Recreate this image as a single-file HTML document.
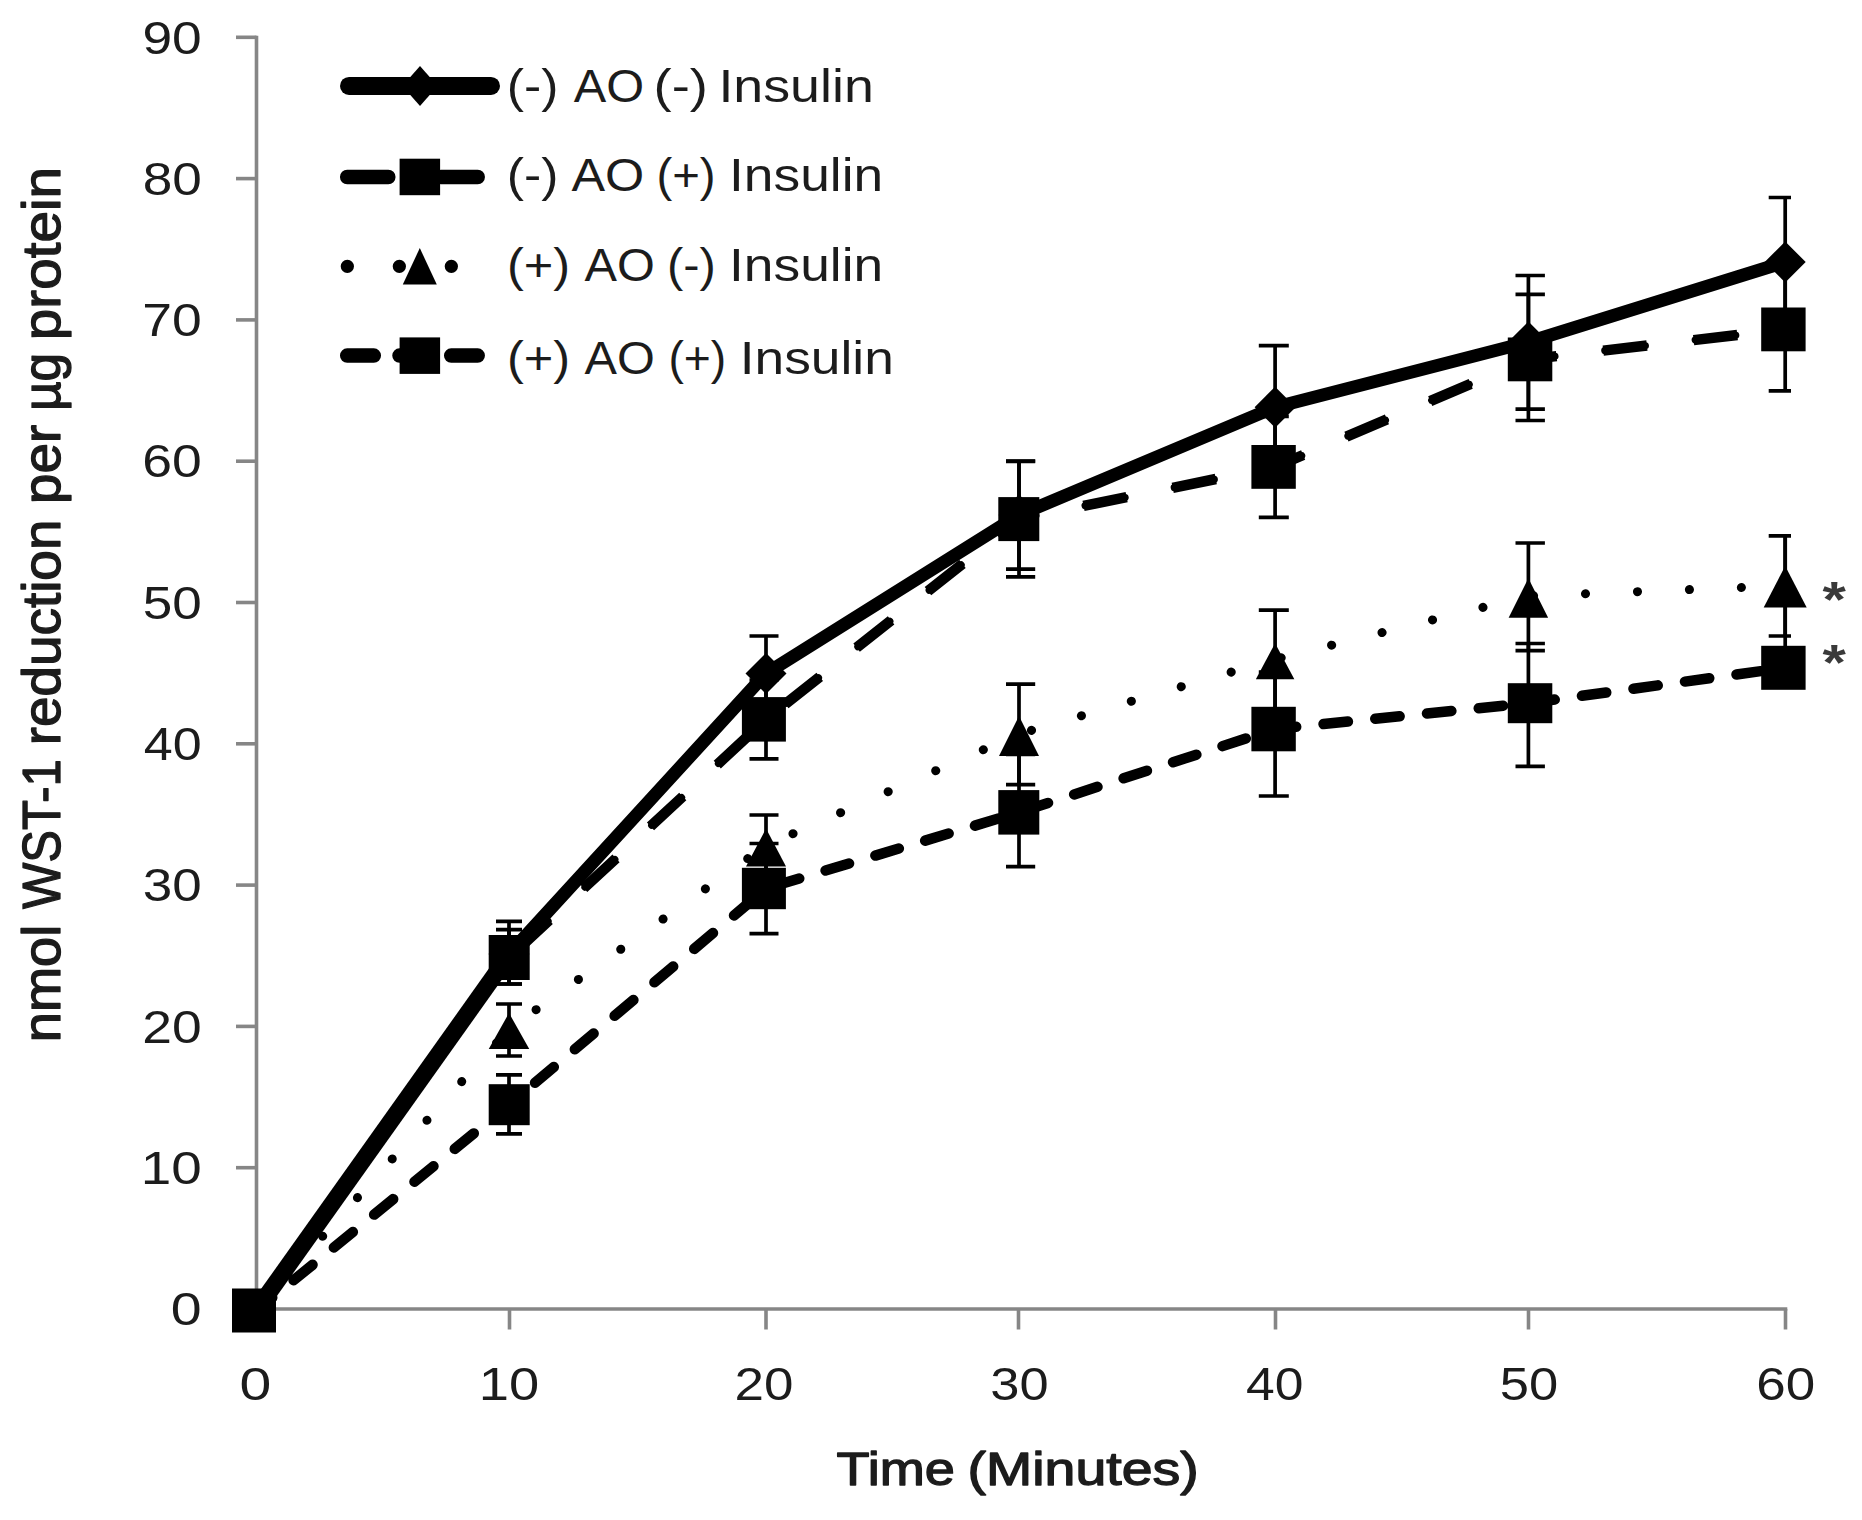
<!DOCTYPE html>
<html lang="en"><head><meta charset="utf-8"><title>WST-1 reduction chart</title>
<style>html,body{margin:0;padding:0;background:#fff}svg{display:block}text{font-family:"Liberation Sans",sans-serif;fill:#1c1c1c}.sb{stroke:#1c1c1c;stroke-width:1.3px;stroke-linejoin:round}</style></head><body>
<svg width="1862" height="1520" viewBox="0 0 1862 1520">
<rect width="1862" height="1520" fill="#fff"/>
<g stroke="#868686" stroke-width="3.6" fill="none">
<path d="M256.5 35.7V1310.8"/>
<path d="M254.7 1309H1787.3"/>
<path d="M236 1309.0H256.5"/>
<path d="M236 1167.7H256.5"/>
<path d="M236 1026.4H256.5"/>
<path d="M236 885.1H256.5"/>
<path d="M236 743.8H256.5"/>
<path d="M236 602.5H256.5"/>
<path d="M236 461.2H256.5"/>
<path d="M236 319.9H256.5"/>
<path d="M236 178.6H256.5"/>
<path d="M236 37.3H256.5"/>
<path d="M509.5 1309V1329.5"/>
<path d="M766 1309V1329.5"/>
<path d="M1018.5 1309V1329.5"/>
<path d="M1275.5 1309V1329.5"/>
<path d="M1528.5 1309V1329.5"/>
<path d="M1785.5 1309V1329.5"/>
</g>
<text font-size="46" x="170.8" y="1325.2" textLength="30.9" lengthAdjust="spacingAndGlyphs">0</text>
<text font-size="46" x="140.8" y="1183.9" textLength="61.0" lengthAdjust="spacingAndGlyphs">10</text>
<text font-size="46" x="142.3" y="1042.6" textLength="59.4" lengthAdjust="spacingAndGlyphs">20</text>
<text font-size="46" x="142.8" y="901.3" textLength="58.9" lengthAdjust="spacingAndGlyphs">30</text>
<text font-size="46" x="143.8" y="760.0" textLength="57.9" lengthAdjust="spacingAndGlyphs">40</text>
<text font-size="46" x="142.7" y="618.7" textLength="59.0" lengthAdjust="spacingAndGlyphs">50</text>
<text font-size="46" x="142.2" y="477.4" textLength="59.5" lengthAdjust="spacingAndGlyphs">60</text>
<text font-size="46" x="142.2" y="336.1" textLength="59.5" lengthAdjust="spacingAndGlyphs">70</text>
<text font-size="46" x="142.7" y="194.8" textLength="59.1" lengthAdjust="spacingAndGlyphs">80</text>
<text font-size="46" x="142.4" y="53.5" textLength="59.3" lengthAdjust="spacingAndGlyphs">90</text>
<text font-size="46" x="239.5" y="1399.7" textLength="31.8" lengthAdjust="spacingAndGlyphs">0</text>
<text font-size="46" x="478.7" y="1399.7" textLength="60.4" lengthAdjust="spacingAndGlyphs">10</text>
<text font-size="46" x="734.6" y="1399.7" textLength="58.9" lengthAdjust="spacingAndGlyphs">20</text>
<text font-size="46" x="990.3" y="1399.7" textLength="58.3" lengthAdjust="spacingAndGlyphs">30</text>
<text font-size="46" x="1246.1" y="1399.7" textLength="57.4" lengthAdjust="spacingAndGlyphs">40</text>
<text font-size="46" x="1499.8" y="1399.7" textLength="58.4" lengthAdjust="spacingAndGlyphs">50</text>
<text font-size="46" x="1756.2" y="1399.7" textLength="58.9" lengthAdjust="spacingAndGlyphs">60</text>
<text font-size="45.5" y="102.0"><tspan x="506.8" textLength="51.7" lengthAdjust="spacingAndGlyphs">(-)</tspan> <tspan x="573.8" textLength="70.4" lengthAdjust="spacingAndGlyphs">AO</tspan> <tspan x="653.6" textLength="54.4" lengthAdjust="spacingAndGlyphs">(-)</tspan> <tspan x="718.4" textLength="155.4" lengthAdjust="spacingAndGlyphs">Insulin</tspan></text>
<text font-size="45.5" y="191.2"><tspan x="506.8" textLength="51.7" lengthAdjust="spacingAndGlyphs">(-)</tspan> <tspan x="571.5" textLength="72.8" lengthAdjust="spacingAndGlyphs">AO</tspan> <tspan x="656.4" textLength="59.2" lengthAdjust="spacingAndGlyphs">(+)</tspan> <tspan x="729.0" textLength="154.2" lengthAdjust="spacingAndGlyphs">Insulin</tspan></text>
<text font-size="45.5" y="280.5"><tspan x="506.9" textLength="63.2" lengthAdjust="spacingAndGlyphs">(+)</tspan> <tspan x="584.5" textLength="70.3" lengthAdjust="spacingAndGlyphs">AO</tspan> <tspan x="666.9" textLength="48.9" lengthAdjust="spacingAndGlyphs">(-)</tspan> <tspan x="729.0" textLength="154.2" lengthAdjust="spacingAndGlyphs">Insulin</tspan></text>
<text font-size="45.5" y="373.6"><tspan x="506.9" textLength="63.2" lengthAdjust="spacingAndGlyphs">(+)</tspan> <tspan x="584.5" textLength="70.3" lengthAdjust="spacingAndGlyphs">AO</tspan> <tspan x="668.4" textLength="57.9" lengthAdjust="spacingAndGlyphs">(+)</tspan> <tspan x="739.7" textLength="154.2" lengthAdjust="spacingAndGlyphs">Insulin</tspan></text>
<text class="sb" font-size="46" y="1485.0"><tspan x="836.6" textLength="118.3" lengthAdjust="spacingAndGlyphs">Time</tspan> <tspan x="967.6" textLength="231.1" lengthAdjust="spacingAndGlyphs">(Minutes)</tspan></text>
<text class="sb" font-size="53" transform="translate(60.3 1039.2) rotate(-90)"><tspan x="-3.0" textLength="117.4" lengthAdjust="spacingAndGlyphs">nmol</tspan> <tspan x="130.2" textLength="149.9" lengthAdjust="spacingAndGlyphs">WST-1</tspan> <tspan x="293.9" textLength="225.7" lengthAdjust="spacingAndGlyphs">reduction</tspan> <tspan x="535.3" textLength="79.0" lengthAdjust="spacingAndGlyphs">per</tspan> <tspan x="628.1" textLength="58.2" lengthAdjust="spacingAndGlyphs">µg</tspan> <tspan x="699.0" textLength="173.2" lengthAdjust="spacingAndGlyphs">protein</tspan></text>
<text font-size="50" font-weight="bold" style="fill:#3a3a3a" text-anchor="middle" transform="translate(1834.3 617) scale(1.2 1)">*</text>
<text font-size="50" font-weight="bold" style="fill:#3a3a3a" text-anchor="middle" transform="translate(1834.3 680.2) scale(1.2 1)">*</text>
<g fill="none" stroke="#000" stroke-linecap="round" stroke-linejoin="round">
<polyline stroke-width="13" points="256.5,1310.0 509.0,954.0 766.0,673.5 1019.0,515.0 1275.1,407.2 1528.4,342.0 1785.2,262.0"/>
<path stroke-width="17" stroke-linecap="butt" d="M256.5 1310L509 955"/>
<polyline stroke-width="10.5" stroke-linecap="butt" stroke-dasharray="44 47" stroke-dashoffset="10.5" points="256.5,1310.0 509.0,957.5 766.0,719.4 1019.0,519.1 1275.1,466.9 1528.4,359.4 1785.2,329.4"/>
<polyline stroke-width="7" stroke-dasharray="41 50" stroke-dashoffset="9" points="256.5,1310.0 509.0,957.5 766.0,719.4 1019.0,519.1 1275.1,466.9 1528.4,359.4 1785.2,329.4"/>
<polyline stroke-width="9" stroke-dasharray="0.1 51.9" stroke-dashoffset="5" points="256.5,1310.0 509.0,1029.0 766.0,845.6 1019.0,734.0 1275.1,659.3 1528.4,596.0 1785.2,585.8"/>
<polyline stroke-width="10.5" stroke-dasharray="24.5 27.5" stroke-dashoffset="4.2" points="256.5,1310.5 509.0,1104.7 766.0,888.5 1019.0,812.4 1275.1,729.0 1528.4,703.2 1785.2,667.8"/>
<path stroke-width="18" d="M349 85.9H491"/>
<path stroke-width="14.5" d="M347.2 177H388.3M441 177H477.7"/>
<path stroke-width="13.2" stroke-dasharray="0.1 51.9" d="M347.3 266.3H452"/>
<path stroke-width="14.5" d="M347.2 355.6H373.8M399.5 355.6H426M451.2 355.6H477.7"/>
</g>
<g stroke="#000" stroke-width="3.7" fill="none" clip-path="url(#cp)">
<defs><clipPath id="cp"><rect x="0" y="0" width="1791" height="1520"/></clipPath></defs>
<path d="M509 921.4V984M496.0 921.4H522.0M496.0 984H522.0"/>
<path d="M766 636V711M749.5 636H778.5M749.5 711H778.5"/>
<path d="M1019 461V569.2M1006.0 461H1035.2M1006.0 569.2H1035.2"/>
<path d="M1275.1 345.7V468.7M1258.8 345.7H1288.8M1258.8 468.7H1288.8"/>
<path d="M1528.4 275.5V409.2M1515.5 275.5H1544.9M1515.5 409.2H1544.9"/>
<path d="M1785.2 197.5V326.5M1768.7 197.5H1797.1M1768.7 326.5H1797.1"/>
<path d="M509 929.7V984M496.0 929.7H522.0M496.0 984H522.0"/>
<path d="M766 680V758.8M749.5 680H778.5M749.5 758.8H778.5"/>
<path d="M1019 461.3V576.8M1006.0 461.3H1035.2M1006.0 576.8H1035.2"/>
<path d="M1275.1 416.4V517.4M1258.8 416.4H1288.8M1258.8 517.4H1288.8"/>
<path d="M1528.4 294.3V420.5M1515.5 294.3H1544.9M1515.5 420.5H1544.9"/>
<path d="M1785.2 268.4V390.8M1768.7 268.4H1797.1M1768.7 390.8H1797.1"/>
<path d="M509 1004V1056M496.0 1004H522.0M496.0 1056H522.0"/>
<path d="M766 815V880M749.5 815H778.5M749.5 880H778.5"/>
<path d="M1019 684.2V784.7M1006.0 684.2H1035.2M1006.0 784.7H1035.2"/>
<path d="M1275.1 610.1V712M1258.8 610.1H1288.8M1258.8 712H1288.8"/>
<path d="M1528.4 543V650.7M1515.5 543H1544.9M1515.5 650.7H1544.9"/>
<path d="M1785.2 535.8V636M1768.7 535.8H1797.1M1768.7 636H1797.1"/>
<path d="M509 1074.8V1133.8M496.0 1074.8H522.0M496.0 1133.8H522.0"/>
<path d="M766 843.5V933.6M749.5 843.5H778.5M749.5 933.6H778.5"/>
<path d="M1019 754.5V866.7M1006.0 754.5H1035.2M1006.0 866.7H1035.2"/>
<path d="M1275.1 672V796M1258.8 672H1288.8M1258.8 796H1288.8"/>
<path d="M1528.4 643.5V766.3M1515.5 643.5H1544.9M1515.5 766.3H1544.9"/>
<path d="M1785.2 536V660"/>
</g>
<g fill="#000">
<path d="M509 933.5L529.5 954L509 974.5L488.5 954Z"/>
<rect x="488.7" y="935.0" width="41" height="45"/>
<path d="M509 1013.0L529.25 1049.0H488.75Z"/>
<rect x="488.7" y="1084.2" width="41" height="41"/>
<path d="M766 653.0L786.5 673.5L766 694.0L745.5 673.5Z"/>
<rect x="741.9" y="697.1" width="44" height="44.5"/>
<path d="M766 828.6L786.0 866.6H746.0Z"/>
<rect x="741.9" y="867.8" width="44" height="41.4"/>
<path d="M1019 494.5L1039.5 515L1019 535.5L998.5 515Z"/>
<rect x="998.3" y="497.1" width="41" height="44"/>
<path d="M1019 716.0L1039.0 756.0H999.0Z"/>
<rect x="998.3" y="790.1" width="41" height="44.5"/>
<path d="M1275.1 386.7L1295.6 407.2L1275.1 427.7L1254.6 407.2Z"/>
<rect x="1251.4" y="445.0" width="44.4" height="43.8"/>
<path d="M1275.1 643.3L1294.35 679.3H1255.85Z"/>
<rect x="1251.4" y="706.8" width="44.4" height="44.5"/>
<path d="M1528.4 321.5L1548.9 342L1528.4 362.5L1507.9 342Z"/>
<rect x="1507.8" y="337.5" width="44.5" height="43.8"/>
<path d="M1528.4 578.15L1548.15 617.85H1508.65Z"/>
<rect x="1507.8" y="683.2" width="44.5" height="40"/>
<path d="M1785.2 241.5L1805.7 262L1785.2 282.5L1764.7 262Z"/>
<rect x="1761.2" y="307.5" width="44.4" height="43.8"/>
<path d="M1785.2 565.9L1806.7 607.4999999999999H1763.7Z"/>
<rect x="1761.2" y="645.8" width="44.4" height="44"/>
<rect x="232.0" y="1288.5" width="44" height="44"/>
<path d="M420 66L437.6 86L420 106L402.4 86Z"/>
<rect x="399.6" y="158.7" width="40.5" height="36.5"/>
<path d="M419.8 248.05L436.8 284.55H402.8Z"/>
<rect x="399.6" y="337.4" width="40.5" height="36.5"/>
</g>
</svg></body></html>
